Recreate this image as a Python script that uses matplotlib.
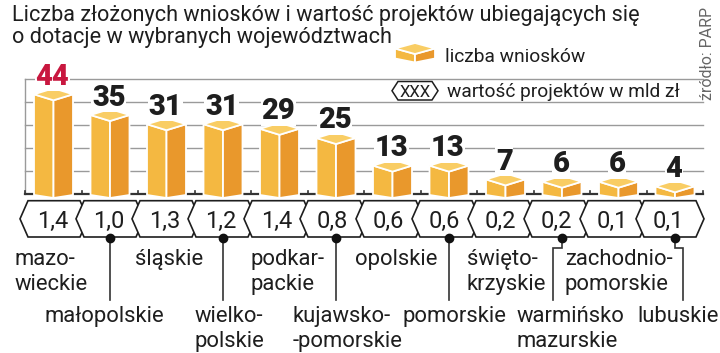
import matplotlib
matplotlib.use("Agg")
import matplotlib.pyplot as plt
from matplotlib.patches import Polygon

plt.rcParams['font.family'] = ['Roboto', 'DejaVu Sans']

# data
regiony = ["mazo-\nwieckie", "małopolskie", "śląskie", "wielko-\npolskie",
           "podkar-\npackie", "kujawsko-\n-pomorskie", "opolskie", "pomorskie",
           "święto-\nkrzyskie", "warmińsko\nmazurskie", "zachodnio-\npomorskie",
           "lubuskie"]
wnioski = [44, 35, 31, 31, 29, 25, 13, 13, 7, 6, 6, 4]
wartosc = ["1,4", "1,0", "1,3", "1,2", "1,4", "0,8", "0,6", "0,6",
           "0,2", "0,2", "0,1", "0,1"]
grid_vals = [10, 20, 30, 40, 50]

# layout (pixels of the 720x353 picture)
W, H = 720, 353
X0, DX = 53.5, 56.5     # bar centre of first bar, pitch
Y0, DY = 193.5, 2.3     # baseline and px per unit
label_dx = [-38.5, -65, -31.5, -28, -29.5, -43, -37.5, -46, -38.5, -45, -53.5, -38]
jog = [0, 0, 0, 0, 0, 0, 0, 0, 0, -9, 0, 8]

LIGHT = '#f4b841'
DARK = '#e9982c'
TOP = '#f9cd64'
RED = '#c8173f'
INK = '#1e1e1e'


def px_x(v):
    return v / DX


def px_y(v):
    return v / DY


def box(ax, xc, hw, top, d, bot, dbot, z=3):
    lw = 1.3
    ax.add_patch(Polygon([(xc - hw, top - d), (xc, top - 2 * d), (xc, bot - dbot), (xc - hw, bot)],
                         closed=True, fc=LIGHT, ec='white', lw=lw, zorder=z))
    ax.add_patch(Polygon([(xc, top - 2 * d), (xc + hw, top - d), (xc + hw, bot), (xc, bot - dbot)],
                         closed=True, fc=DARK, ec='white', lw=lw, zorder=z))
    ax.add_patch(Polygon([(xc - hw, top - d), (xc, top), (xc + hw, top - d), (xc, top - 2 * d)],
                         closed=True, fc=TOP, ec='white', lw=lw, zorder=z))


def hexagon(ax, xc, hw, p, ytop, ybot, z, lw=1.2):
    ym = (ytop + ybot) / 2
    pts = [(xc - hw - p, ym), (xc - hw, ytop), (xc + hw, ytop), (xc + hw + p, ym),
           (xc + hw, ybot), (xc - hw, ybot)]
    ax.add_patch(Polygon(pts, closed=True, fc='white', ec=INK, lw=lw, zorder=z))


fig = plt.figure(figsize=(W / 100, H / 100), dpi=100)
ax = fig.add_axes([0, 0, 1, 1])
ax.set_xlim(-X0 / DX, (W - X0) / DX)
ax.set_ylim(-(H - Y0) / DY, Y0 / DY)
ax.axis('off')

n = len(wnioski)
left, right = -0.5, n - 0.5

# grid
for g in grid_vals:
    ax.plot([left, right], [g, g], color='#9a9a9a', lw=1, zorder=1)
ax.plot([left, left], [0, grid_vals[-1]], color='#9a9a9a', lw=1, zorder=1)
ax.plot([left, right], [0, 0], color='#333333', lw=1.6, zorder=2)
for i in range(n + 1):
    ax.plot([i - 0.5, i - 0.5], [0, px_y(3)], color='#333333', lw=1.2, zorder=2)

# bars
hw = px_x(19.5)
d = px_y(6)
for i, v in enumerate(wnioski):
    box(ax, i, hw, v + px_y(4), d, -px_y(1.5), px_y(3))
    ax.text(i - 0.02, v + px_y(7.5), str(v), ha='center', va='baseline', fontsize=21,
            fontweight='heavy', color=RED if i == 0 else INK, zorder=5,
            bbox=dict(fc='white', ec='none', pad=0.5))

# value hexagons
ht, hb = px_y(Y0 - 200.7), px_y(Y0 - 237)
for i, s in enumerate(wartosc):
    xh = px_x(54 + 56 * i - X0)
    hexagon(ax, xh, px_x(26), px_x(8), ht, hb, 4 + i * 0.01)
    ax.text(xh - 0.03, (ht + hb) / 2, s, ha='center', va='center_baseline',
            fontsize=17, color=INK, zorder=5)

# region labels
row1 = [px_y(Y0 - 265), px_y(Y0 - 290)]
row2 = [px_y(Y0 - 322), px_y(Y0 - 347)]
for i, name in enumerate(regiony):
    xl = i + px_x(label_dx[i])
    rows = row1 if i % 2 == 0 else row2
    for k, line in enumerate(name.split('\n')):
        ax.text(xl, rows[k], line, ha='left', va='baseline', fontsize=15.8,
                color=INK, zorder=5)
    if i % 2 == 1:
        yd = px_y(Y0 - 238)
        ybend = px_y(Y0 - 248)
        yend = px_y(Y0 - 300)
        xj = i + px_x(jog[i])
        ax.plot([i, i, xj, xj], [yd, ybend, ybend, yend], color='#333333',
                lw=1.2, zorder=5, solid_joinstyle='miter')
        ax.plot([i], [yd], 'o', ms=6, color='#111111', zorder=6)

# legend
lx = px_x(415 - X0)
box(ax, lx, px_x(20), px_y(Y0 - 43), px_y(5.5), px_y(Y0 - 58.5), px_y(4))
fig.text(445 / W, 1 - 62.5 / H, "liczba wniosków", ha='left', va='baseline',
         fontsize=13.8, color=INK)
hexagon(ax, px_x(415 - X0), px_x(17), px_x(6), px_y(Y0 - 81.5), px_y(Y0 - 100), 6, lw=1.1)
ax.text(px_x(415 - X0), px_y(Y0 - 91), "XXX", ha='center', va='center_baseline',
        fontsize=12, color=INK, zorder=7)
fig.text(447 / W, 1 - 96.7 / H, "wartość projektów w mld zł", ha='left', va='baseline',
         fontsize=13.8, color=INK)

# title and source
fig.text(12 / W, 1 - 20.5 / H,
         "Liczba złożonych wniosków i wartość projektów ubiegających się",
         ha='left', va='baseline', fontsize=15.6, color=INK)
fig.text(12 / W, 1 - 42.5 / H, "o dotacje w wybranych województwach",
         ha='left', va='baseline', fontsize=15.6, color=INK)
fig.text(708 / W, 1 - 100 / H, "źródło: PARP", rotation=90, ha='center', va='bottom',
         fontsize=11.5, color='#666666')

fig.savefig('out.png', dpi=100)
